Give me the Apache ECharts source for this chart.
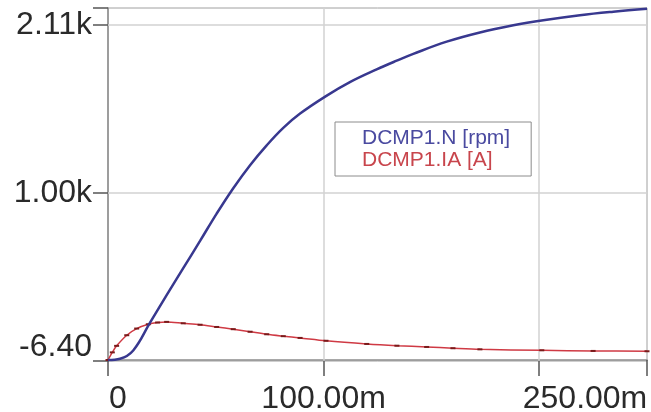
<!DOCTYPE html>
<html><head><meta charset="utf-8">
<script src="https://cdn.jsdelivr.net/npm/echarts@6/dist/echarts.min.js"></script>
<style>html,body{margin:0;padding:0;background:#fff}#c{width:651px;height:412px}</style>
</head><body><div id="c"></div>
<script>
// time in ms
const timeN = [0, 5.6, 11.7, 19.5, 27.2, 34.9, 42.7, 50.4, 58.1, 65.9, 73.6, 81.3, 89.1, 101.1, 112.2, 124.6, 133.9, 141.6, 157.1, 172.5, 188.0, 201.9, 218.9, 234.4, 250];
const speedN = [0, 8, 60, 235, 408, 578, 750, 922, 1082, 1227, 1352, 1462, 1552, 1662, 1750, 1830, 1885, 1928, 2005, 2063, 2108, 2140, 2172, 2194, 2212];
const timeI = [0, 2, 4, 8.7, 13.3, 18.7, 23, 27.2, 34.9, 42.7, 50.4, 58.1, 65.9, 73.6, 81.3, 89.1, 101.1, 120, 134, 147.8, 160, 172.5, 201.2, 225, 250];
const currentI = [0, 48, 89, 156, 198, 225, 236, 240, 231, 222, 208, 194, 178, 162, 150, 139, 121, 101, 90, 82, 74, 67, 61, 57, 55];
const xTickValues = [0, 100, 200, 250];
const xTickLabels = ['0', '100.00m', '', '250.00m'];
const yTickValues = [-6.4, 1051.8, 2110, 2217];
const yTickLabels = ['-6.40', '1.00k', '2.11k', ''];
const seriesNames = ['DCMP1.N [rpm]', 'DCMP1.IA [A]'];
const seriesColors = ['#38388f', '#cf3a44'];
const legendColors = ['#4a4aa0', '#c8454c'];

const FONT = '"Liberation Sans", Arial, sans-serif';
const chart = echarts.init(document.getElementById('c'), null, {renderer: 'canvas'});

function nearestIdx(arr, v) {
  let bi = 0, bd = Infinity;
  arr.forEach((a, i) => { const d = Math.abs(a - v); if (d < bd) { bd = d; bi = i; } });
  return bi;
}
const lab = {fontSize: 32, fontFamily: FONT, color: '#2a2a2a'};

chart.setOption({
  animation: false,
  backgroundColor: '#fff',
  grid: {left: 108, right: 4, top: 8, bottom: 51, containLabel: false, outerBoundsMode: 'none',
         show: true, borderColor: '#a0a0a0', borderWidth: 1, backgroundColor: 'transparent'},
  xAxis: {
    type: 'value', min: xTickValues[0], max: xTickValues[xTickValues.length - 1],
    axisLine: {show: true, lineStyle: {color: '#8c8c8c', width: 1.5}},
    axisTick: {show: true, customValues: xTickValues, length: 16, lineStyle: {color: '#555', width: 1.5}},
    splitLine: {show: false},
    axisLabel: {
      customValues: xTickValues.filter((v, i) => xTickLabels[i] !== ''),
      margin: 22, fontSize: 32, fontFamily: FONT, color: '#2a2a2a',
      formatter: function (v) {
        const i = nearestIdx(xTickValues, v);
        if (i === 0) return '{l|' + xTickLabels[i] + '}';
        if (i === xTickValues.length - 1) return '{r|' + xTickLabels[i] + '}';
        return xTickLabels[i];
      },
      rich: {
        l: Object.assign({padding: [0, 0, 0, 20]}, lab),
        r: Object.assign({padding: [0, 124, 0, 0]}, lab)
      }
    }
  },
  yAxis: {
    type: 'value', min: yTickValues[0], max: yTickValues[yTickValues.length - 1],
    axisLine: {show: true, lineStyle: {color: '#8c8c8c', width: 1.5}},
    axisTick: {show: true, customValues: yTickValues, length: 15, lineStyle: {color: '#555', width: 1.5}},
    splitLine: {show: false},
    axisLabel: {
      customValues: yTickValues.filter((v, i) => yTickLabels[i] !== ''),
      margin: 16, fontSize: 32, fontFamily: FONT, color: '#2a2a2a',
      formatter: function (v) {
        const i = nearestIdx(yTickValues, v);
        if (i === 0) return '{b|' + yTickLabels[i] + '}';
        return yTickLabels[i];
      },
      rich: {
        b: Object.assign({padding: [0, 0, 28, 0]}, lab)
      }
    }
  },
  legend: {
    orient: 'vertical', left: 335, top: 122,
    padding: [6, 21, 5, 22], itemGap: 1, itemWidth: 0, itemHeight: 14, icon: 'none',
    borderColor: '#8c8c8c', borderWidth: 1, backgroundColor: '#fff',
    selectedMode: false,
    textStyle: {fontSize: 21, fontFamily: FONT, lineHeight: 18},
    data: seriesNames.map((n, i) => ({name: n, textStyle: {color: legendColors[i]}}))
  },
  series: [
    {
      type: 'line', name: 'grid', data: [], z: 1, silent: true,
      markLine: {
        silent: true, z: 1, symbol: ['none', 'none'], animation: false,
        label: {show: false},
        lineStyle: {color: '#d2d2d2', width: 1.5, type: 'solid'},
        emphasis: {disabled: true},
        data: yTickValues.slice(1, 3).map(v => ({yAxis: v})).concat(xTickValues.slice(1, 3).map(v => ({xAxis: v})))
      }
    },
    {
      type: 'line', name: seriesNames[0], z: 3,
      data: timeN.map((t, i) => [t, speedN[i]]),
      showSymbol: false, smooth: 0.4,
      color: seriesColors[0],
      lineStyle: {color: seriesColors[0], width: 2.5}
    },
    {
      type: 'line', name: seriesNames[1], z: 2,
      data: timeI.map((t, i) => [t, currentI[i]]),
      showSymbol: true, symbol: 'rect', symbolSize: [5, 2], smooth: 0.3,
      color: seriesColors[1],
      itemStyle: {color: '#7a1a1a'},
      lineStyle: {color: seriesColors[1], width: 1.5}
    }
  ]
});
</script></body></html>
